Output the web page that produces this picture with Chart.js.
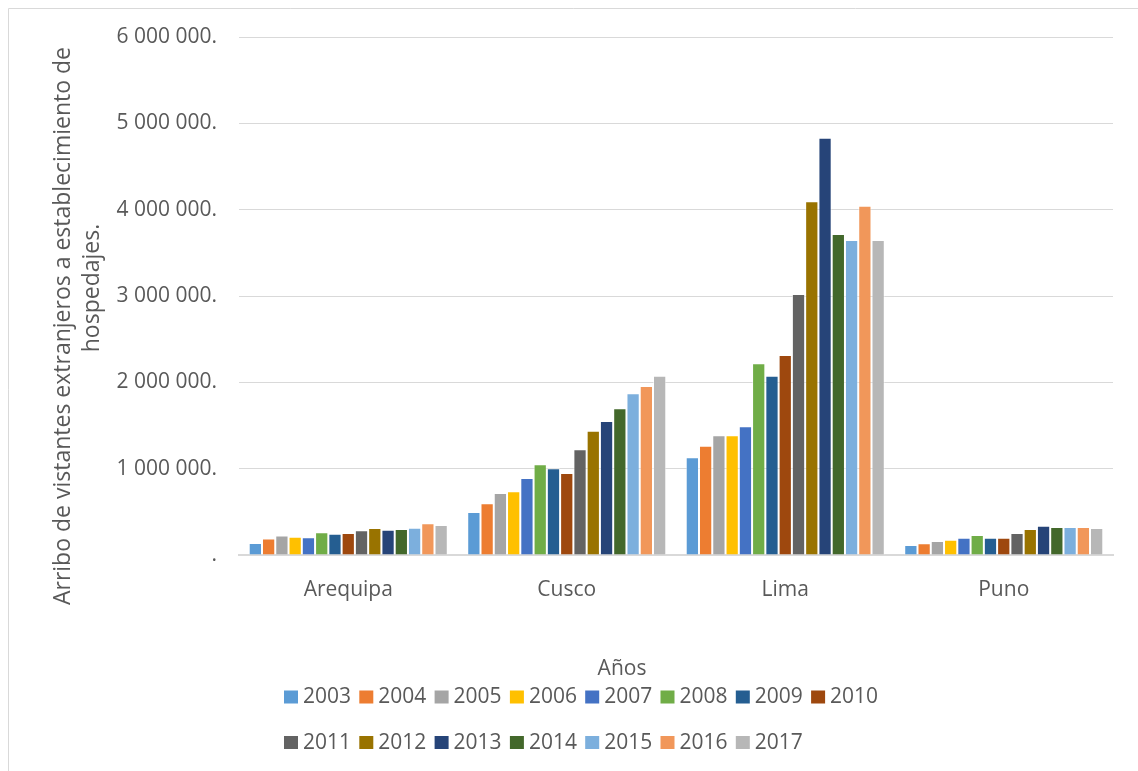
<!DOCTYPE html>
<html lang="es">
<head>
<meta charset="utf-8">
<title>Arribo de visitantes extranjeros</title>
<script src="https://cdn.jsdelivr.net/npm/chart.js@4.4.1/dist/chart.umd.min.js"></script>
<style>
  html, body { margin: 0; padding: 0; background: #ffffff; }
  #wrap { width: 1138px; height: 771px; position: relative; }
</style>
</head>
<body>
<div id="wrap"><canvas id="chart" width="1138" height="771"></canvas></div>
<script>
// Regiones (categorías del eje X)
const cities = ['Arequipa', 'Cusco', 'Lima', 'Puno'];

// Años (una serie por año)
const years = ['2003', '2004', '2005', '2006', '2007', '2008', '2009', '2010',
               '2011', '2012', '2013', '2014', '2015', '2016', '2017'];

// Arribos por región, de 2003 a 2017
const arequipa = [140000, 190000, 225000, 212000, 205000, 263000, 247000, 255000,
                  286000, 313000, 293000, 301000, 317000, 367000, 347000];
const cusco    = [498000, 598000, 718000, 737000, 892000, 1050000, 1004000, 950000,
                  1224000, 1440000, 1552000, 1699000, 1873000, 1958000, 2077000];
const lima     = [1131000, 1266000, 1386000, 1386000, 1490000, 2220000, 2077000, 2317000,
                  3023000, 4097000, 4834000, 3718000, 3649000, 4046000, 3649000];
const puno     = [116000, 135000, 162000, 178000, 201000, 232000, 201000, 199000,
                  255000, 301000, 340000, 324000, 324000, 324000, 313000];

// Marcas del eje Y
const yTicks = [0, 1000000, 2000000, 3000000, 4000000, 5000000, 6000000];

// Paleta de Office
const colors = ['#5B9BD5', '#ED7D31', '#A5A5A5', '#FFC000', '#4472C4', '#70AD47', '#255E91', '#9E480E',
                '#636363', '#997300', '#264478', '#43682B', '#7CAFDD', '#F1975A', '#B7B7B7'];

const yTitleLines = ['Arribo de vistantes extranjeros a establecimiento de', 'hospedajes.'];
const xTitle = 'Años';

const FONT = '"Open Sans", "Noto Sans", sans-serif';
const TEXT = '#595959';
const GRID = '#d9d9d9';

const byCity = [arequipa, cusco, lima, puno];
const datasets = years.map((y, i) => ({
  label: y,
  data: byCity.map(arr => arr[i]),
  backgroundColor: colors[i],
  borderColor: 'rgba(255,255,255,0.55)',
  borderWidth: 1,
  categoryPercentage: 0.911,
  barPercentage: 1.0
}));

function fmtTick(v) {
  if (v === 0) return '.';
  return String(Math.round(v)).replace(/\B(?=(\d{3})+(?!\d))/g, ' ') + '.';
}

// Marco, títulos de ejes y leyenda en cuadrícula
const decorations = {
  id: 'decorations',
  beforeDraw(chart) {
    const ctx = chart.ctx;
    ctx.save();
    ctx.strokeStyle = GRID;
    ctx.lineWidth = 1;
    ctx.beginPath();
    ctx.moveTo(8.5, 771);
    ctx.lineTo(8.5, 8.5);
    ctx.lineTo(1138, 8.5);
    ctx.stroke();
    ctx.restore();
  },
  afterDraw(chart) {
    const ctx = chart.ctx;
    ctx.save();
    ctx.fillStyle = TEXT;

    // Título del eje Y (rotado)
    ctx.font = '23px ' + FONT;
    const yTitlePos = [[70, 326], [99, 288]];
    yTitleLines.forEach((t, k) => {
      ctx.save();
      ctx.translate(yTitlePos[k][0], yTitlePos[k][1]);
      ctx.rotate(-Math.PI / 2);
      ctx.textAlign = 'center';
      ctx.textBaseline = 'alphabetic';
      ctx.fillText(t, 0, 0);
      ctx.restore();
    });

    // Título del eje X
    ctx.font = '21px ' + FONT;
    ctx.textAlign = 'center';
    ctx.textBaseline = 'middle';
    ctx.fillText(xTitle, 622, 669);

    // Leyenda: 8 columnas
    const x0 = 284, colW = 75.3, rowY = [697.5, 743];
    ctx.textAlign = 'left';
    chart.data.datasets.forEach((ds, i) => {
      const r = Math.floor(i / 8), c = i % 8;
      const x = x0 + c * colW, y = rowY[r];
      ctx.fillStyle = ds.backgroundColor;
      ctx.fillRect(x, y - 7, 14, 13);
      ctx.fillStyle = TEXT;
      ctx.fillText(ds.label, x + 19, y);
    });
    ctx.restore();
  }
};

new Chart(document.getElementById('chart'), {
  type: 'bar',
  data: { labels: cities, datasets },
  options: {
    responsive: false,
    animation: false,
    events: [],
    layout: { padding: { top: 37, right: 25, bottom: 0, left: 0 } },
    plugins: {
      legend: { display: false },
      tooltip: { enabled: false },
      title: { display: false }
    },
    scales: {
      x: {
        grid: { display: false },
        border: { display: true, color: GRID, width: 2 },
        ticks: { color: TEXT, font: { family: FONT, size: 21 }, padding: 14 },
        afterFit(scale) { scale.height = 216; }
      },
      y: {
        min: 0,
        max: 6000000,
        afterBuildTicks(scale) { scale.ticks = yTicks.map(v => ({ value: v })); },
        grid: { color: GRID, lineWidth: 1, drawTicks: false },
        border: { display: false },
        ticks: {
          color: TEXT,
          font: { family: FONT, size: 21 },
          padding: 22,
          callback: v => fmtTick(v)
        },
        afterFit(scale) { scale.width = 239; }
      }
    }
  },
  plugins: [decorations]
});
</script>
</body>
</html>
